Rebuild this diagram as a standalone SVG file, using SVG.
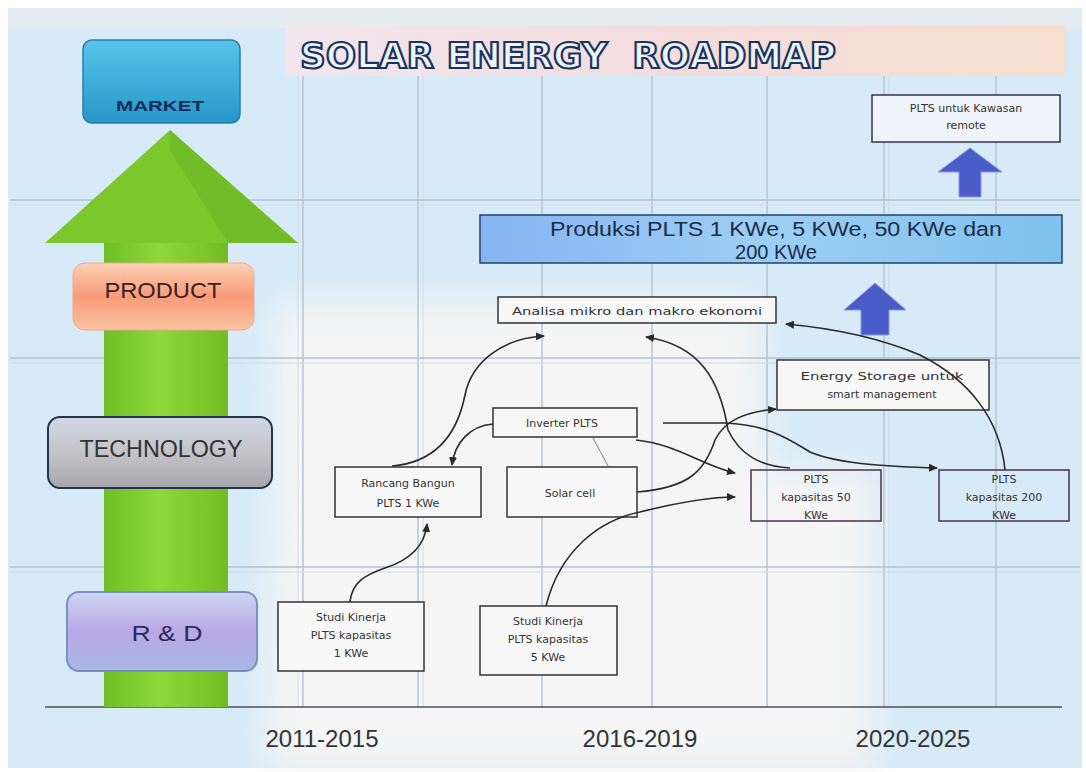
<svg xmlns="http://www.w3.org/2000/svg" width="1086" height="772" viewBox="0 0 1086 772">
<style>
.grid{stroke:#b4c2cc;stroke-width:1.4;fill:none}
.grid2{stroke:#d2dce4;stroke-width:1;fill:none}
.box{fill:#f8f8f8;stroke:#333;stroke-width:1.5}
.boxt{fill:none;stroke:#4a3048;stroke-width:1.5}
.t{font-family:"DejaVu Sans","Liberation Sans",sans-serif;font-size:11px;fill:#333;text-anchor:middle}
.yr{font-family:"Liberation Sans",Arial,sans-serif;font-size:24px;fill:#333;text-anchor:middle}
.lab{font-family:"Liberation Sans",Arial,sans-serif;text-anchor:middle}
.con{fill:none;stroke:#2a2a2a;stroke-width:1.6;marker-end:url(#ah)}
.up{fill:#4a5cc8;stroke:#8a98e0;stroke-width:1}
</style>
<defs>
<marker id="ah" markerWidth="9" markerHeight="8" refX="8" refY="4" orient="auto" markerUnits="userSpaceOnUse">
<path d="M0,0 L9,4 L0,8 z" fill="#2a2a2a"/>
</marker>
<linearGradient id="gShaft" x1="0" y1="0" x2="1" y2="0">
<stop offset="0" stop-color="#6cbf26"/><stop offset="0.45" stop-color="#8fd83a"/><stop offset="1" stop-color="#72bc22"/>
</linearGradient>
<linearGradient id="gMarket" x1="0" y1="0" x2="0" y2="1">
<stop offset="0" stop-color="#58c4ea"/><stop offset="1" stop-color="#2597c8"/>
</linearGradient>
<linearGradient id="gProd" x1="0" y1="0" x2="0" y2="1">
<stop offset="0" stop-color="#fcd2b6"/><stop offset="0.5" stop-color="#f89a78"/><stop offset="1" stop-color="#fbc4a2"/>
</linearGradient>
<linearGradient id="gTech" x1="0" y1="0" x2="0" y2="1">
<stop offset="0" stop-color="#d0d8e4"/><stop offset="0.5" stop-color="#c4c4c8"/><stop offset="1" stop-color="#a6a6ac"/>
</linearGradient>
<linearGradient id="gRD" x1="0" y1="0" x2="0" y2="1">
<stop offset="0" stop-color="#cfd6f2"/><stop offset="0.5" stop-color="#b8a8e6"/><stop offset="1" stop-color="#a8b8e4"/>
</linearGradient>
<linearGradient id="gBlue" x1="0" y1="0" x2="1" y2="0">
<stop offset="0" stop-color="#86b4f2"/><stop offset="0.5" stop-color="#9ccff4"/><stop offset="1" stop-color="#7fc0ec"/>
</linearGradient>
<linearGradient id="gBand" x1="0" y1="0" x2="1" y2="0">
<stop offset="0" stop-color="#f2e6ee"/><stop offset="0.5" stop-color="#f4dcdc"/><stop offset="1" stop-color="#f6dfcf"/>
</linearGradient>
<filter id="blur" x="-10%" y="-10%" width="120%" height="120%"><feGaussianBlur stdDeviation="18"/></filter>
</defs>

<g id="background">
<rect x="0" y="0" width="1086" height="772" fill="#ffffff"/>
<rect x="8" y="8" width="1074" height="760" fill="#d6eaf8"/>
<path d="M275,300 L760,300 L770,470 L875,470 L875,772 L265,772 Z" fill="#f5f5f5" filter="url(#blur)"/>
<rect x="8" y="8" width="1074" height="20" fill="#e4ecf0"/>
<rect x="285" y="26" width="780" height="50" fill="url(#gBand)"/>
</g>

<g id="grid">
<line class="grid" x1="303" y1="76" x2="303" y2="707"/>
<line class="grid" x1="418" y1="76" x2="418" y2="707"/>
<line class="grid" x1="542" y1="76" x2="542" y2="707"/>
<line class="grid" x1="652" y1="76" x2="652" y2="707"/>
<line class="grid" x1="767" y1="76" x2="767" y2="707"/>
<line class="grid" x1="884" y1="76" x2="884" y2="707"/>
<line class="grid" x1="996" y1="76" x2="996" y2="707"/>
<line class="grid2" x1="298" y1="76" x2="298" y2="707"/>
<line class="grid2" x1="423" y1="76" x2="423" y2="707"/>
<line class="grid2" x1="889" y1="76" x2="889" y2="707"/>
<line class="grid" x1="10" y1="200" x2="1080" y2="200"/>
<line class="grid" x1="10" y1="358" x2="1080" y2="358"/>
<line class="grid" x1="10" y1="567" x2="1080" y2="567"/>
<line class="grid2" x1="10" y1="205" x2="1080" y2="205"/>
<line class="grid2" x1="10" y1="363" x2="1080" y2="363"/>
<line class="grid2" x1="10" y1="572" x2="1080" y2="572"/>
<line x1="45" y1="707" x2="1062" y2="707" stroke="#4a5058" stroke-width="1.6"/>
</g>

<g id="title">
<text x="300" y="68" font-family="DejaVu Sans,Liberation Sans,sans-serif" font-weight="bold" font-size="36" fill="#eef4fa" stroke="#1a3560" stroke-width="2.2" textLength="536" lengthAdjust="spacingAndGlyphs" xml:space="preserve">SOLAR ENERGY  ROADMAP</text>
</g>

<g id="green-arrow">
<rect x="104" y="242" width="124" height="465" fill="url(#gShaft)"/>
<polygon points="170,130 298,243 45,243" fill="#7cc82c"/>
<polygon points="170,130 298,243 228,243 170,150" fill="#6cb524" opacity="0.6"/>
</g>

<g id="market">
<rect x="83" y="40" width="157" height="83" rx="9" fill="url(#gMarket)" stroke="#2a7db0" stroke-width="1.5"/>
<text class="lab" x="160" y="111" font-size="15" font-weight="bold" fill="#1a2a5a" textLength="88" lengthAdjust="spacingAndGlyphs">MARKET</text>
</g>

<g id="product">
<rect x="73" y="263" width="181" height="67" rx="12" fill="url(#gProd)" stroke="#f0a888" stroke-width="1"/>
<text class="lab" x="163" y="298" font-size="22" fill="#3a2222" textLength="117" lengthAdjust="spacingAndGlyphs">PRODUCT</text>
</g>

<g id="technology">
<rect x="48" y="417" width="224" height="71" rx="12" fill="url(#gTech)" stroke="#24344e" stroke-width="2"/>
<text class="lab" x="161" y="457" font-size="24" fill="#333" textLength="163" lengthAdjust="spacingAndGlyphs">TECHNOLOGY</text>
</g>

<g id="rnd">
<rect x="67" y="592" width="190" height="79" rx="12" fill="url(#gRD)" stroke="#7a90c4" stroke-width="2"/>
<text class="lab" x="167" y="641" font-size="22" fill="#2a2a55" textLength="71" lengthAdjust="spacingAndGlyphs">R &amp; D</text>
</g>

<g id="plts-remote">
<rect x="872" y="95" width="188" height="47" fill="#eef4fa" stroke="#3a3048" stroke-width="1.5"/>
<text class="t" x="966" y="112" font-size="10.5">PLTS untuk Kawasan</text>
<text class="t" x="966" y="129" font-size="10.5">remote</text>
</g>

<g id="arrow-top">
<polygon class="up" points="970,148 1002,172 981,172 981,197 959,197 959,172 938,172"/>
</g>

<g id="produksi">
<rect x="480" y="215" width="582" height="48" fill="url(#gBlue)" stroke="#2c4a78" stroke-width="1.6"/>
<text class="lab" x="776" y="236" font-size="20" fill="#1c2c48" textLength="452" lengthAdjust="spacingAndGlyphs">Produksi PLTS 1 KWe, 5 KWe, 50 KWe dan</text>
<text class="lab" x="776" y="259" font-size="20" fill="#1c2c48">200 KWe</text>
</g>

<g id="arrow-mid">
<polygon class="up" points="875,283 906,310 889,310 889,335 861,335 861,310 844,310"/>
</g>

<g id="analisa">
<rect class="box" x="498" y="297" width="278" height="26"/>
<text class="t" x="637" y="315" font-size="12" textLength="250" lengthAdjust="spacingAndGlyphs">Analisa mikro dan makro ekonomi</text>
</g>

<g id="energy-storage">
<rect class="box" x="777" y="360" width="212" height="50"/>
<text class="t" x="882" y="380" font-size="12" textLength="163" lengthAdjust="spacingAndGlyphs">Energy Storage untuk</text>
<text class="t" x="882" y="398" font-size="12">smart management</text>
</g>

<g id="inverter">
<rect class="box" x="493" y="408" width="144" height="29"/>
<text class="t" x="562" y="427" font-size="12">Inverter PLTS</text>
</g>

<g id="rancang">
<rect class="box" x="335" y="467" width="146" height="50"/>
<text class="t" x="408" y="487" font-size="11.5">Rancang Bangun</text>
<text class="t" x="408" y="507" font-size="11.5">PLTS 1 KWe</text>
</g>

<g id="solar-cell">
<rect class="box" x="507" y="467" width="130" height="50"/>
<text class="t" x="570" y="497" font-size="12">Solar cell</text>
</g>

<g id="plts-50">
<rect class="boxt" x="751" y="470" width="130" height="51"/>
<text class="t" x="816" y="483">PLTS</text>
<text class="t" x="816" y="501">kapasitas 50</text>
<text class="t" x="816" y="519">KWe</text>
</g>

<g id="plts-200">
<rect class="boxt" x="939" y="470" width="130" height="51"/>
<text class="t" x="1004" y="483">PLTS</text>
<text class="t" x="1004" y="501">kapasitas 200</text>
<text class="t" x="1004" y="519">KWe</text>
</g>

<g id="studi-1">
<rect class="box" x="278" y="602" width="146" height="69"/>
<text class="t" x="351" y="621">Studi Kinerja</text>
<text class="t" x="351" y="639">PLTS kapasitas</text>
<text class="t" x="351" y="657">1 KWe</text>
</g>

<g id="studi-5">
<rect class="box" x="480" y="606" width="137" height="69"/>
<text class="t" x="548" y="625">Studi Kinerja</text>
<text class="t" x="548" y="643">PLTS kapasitas</text>
<text class="t" x="548" y="661">5 KWe</text>
</g>

<g id="connectors">
<path class="con" d="M350,602 C352,582 365,575 385,568 C410,560 425,545 427,524"/>
<path class="con" d="M392,466 C440,462 458,430 465,395 C472,360 505,338 544,336"/>
<path class="con" d="M493,424 C470,426 455,442 452,465"/>
<path class="con" d="M663,423 L725,423 C770,425 790,440 810,452 C840,465 900,467 937,468"/>
<path class="con" d="M636,440 C680,445 700,465 735,473"/>
<path class="con" d="M546,606 C560,550 600,520 640,512 C680,502 710,497 735,497"/>
<path class="con" d="M637,492 C690,488 705,470 715,440 C725,420 745,412 776,409"/>
<path class="con" d="M790,468 C760,466 740,455 728,430 C720,380 700,345 646,337"/>
<path class="con" d="M1005,470 C1000,420 970,380 920,355 C880,338 830,328 786,324"/>
<line x1="593" y1="438" x2="608" y2="466" stroke="#9a9a9a" stroke-width="1.2"/>
</g>

<g id="years">
<text class="yr" x="322" y="747">2011-2015</text>
<text class="yr" x="640" y="747">2016-2019</text>
<text class="yr" x="913" y="747">2020-2025</text>
</g>
</svg>
